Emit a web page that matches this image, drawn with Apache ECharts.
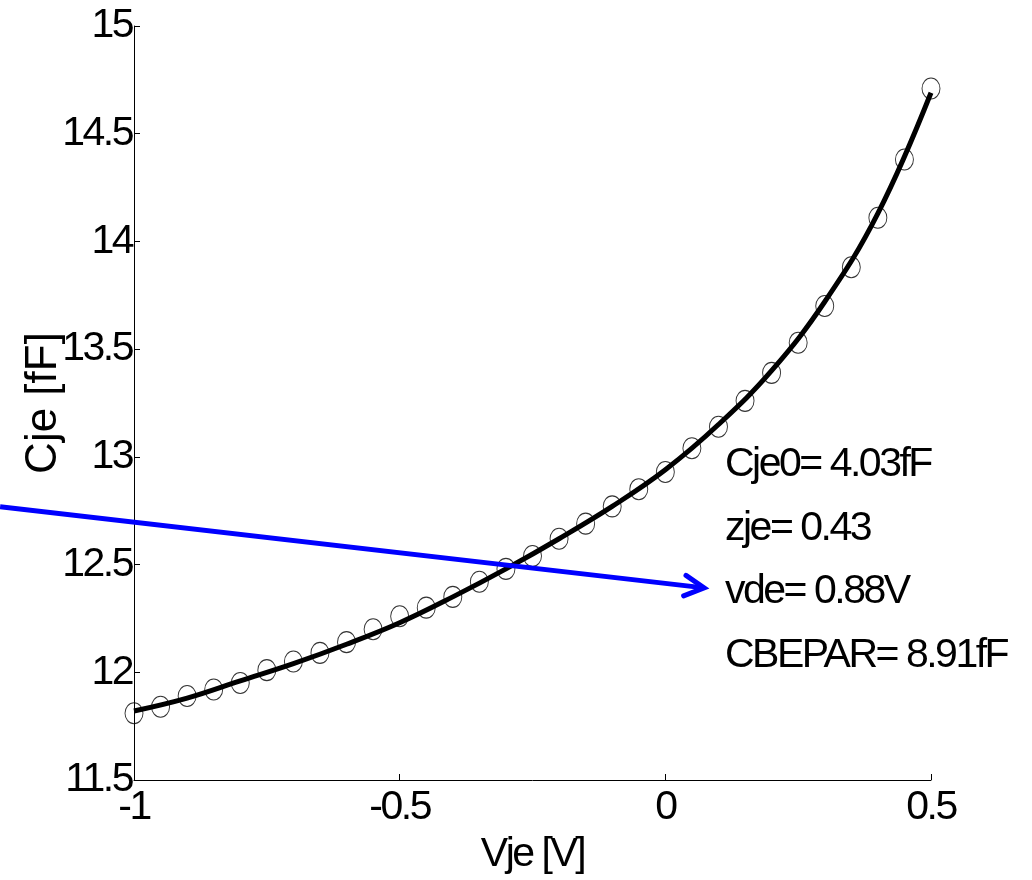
<!DOCTYPE html>
<html>
<head>
<meta charset="utf-8">
<title>Cje vs Vje</title>
<script src="https://cdn.jsdelivr.net/npm/echarts@6/dist/echarts.min.js"></script>
<style>
  html, body { margin: 0; padding: 0; background: #ffffff; }
  #chart { width: 1032px; height: 880px; }
</style>
</head>
<body>
<div id="chart"></div>
<script>
// Emitter-junction capacitance: measured points and fitted model curve
const vje = [-1, -0.95, -0.9, -0.85, -0.8, -0.75, -0.7, -0.65, -0.6, -0.55, -0.5,
             -0.45, -0.4, -0.35, -0.3, -0.25, -0.2, -0.15, -0.1, -0.05, 0,
             0.05, 0.1, 0.15, 0.2, 0.25, 0.3, 0.35, 0.4, 0.45, 0.5];
const cjeMeasured = [11.81, 11.84, 11.89, 11.92, 11.95, 12.01, 12.05, 12.09, 12.14, 12.20, 12.26,
                     12.30, 12.35, 12.42, 12.48, 12.54, 12.62, 12.69, 12.77, 12.85, 12.93,
                     13.04, 13.14, 13.26, 13.39, 13.53, 13.70, 13.88, 14.11, 14.38, 14.71];

const fitV = [-1, -0.9, -0.8, -0.7, -0.6, -0.5, -0.4, -0.3, -0.2, -0.1, 0, 0.1, 0.2, 0.3, 0.4, 0.5];
const cjeFit = [11.82, 11.88, 11.96, 12.04, 12.13, 12.23, 12.35, 12.48, 12.62, 12.77, 12.94,
                13.15, 13.40, 13.72, 14.13, 14.69];

// Extracted model parameters
const fitParams = ['Cje0= 4.03fF', 'zje= 0.43', 'vde= 0.88V', 'CBEPAR= 8.91fF'];

// Pointer arrow, in axis units (starts left of the plot)
const arrowFrom = [-1.252, 12.768];
const arrowTo = [0.073, 12.392];

const FONT = '"Liberation Sans", Arial, sans-serif';
const TIGHT_SIZE = 41;       // labels drawn at this size get tight tracking
const TIGHT_SPACING = '-2.5px';

// Tight letter tracking for the 41px texts (ticks, x title, parameter list)
(function () {
  const proto = CanvasRenderingContext2D.prototype;
  const tightRe = new RegExp('(^|\\s)' + TIGHT_SIZE + 'px');
  const setSpacing = function (ctx) {
    if ('letterSpacing' in ctx) {
      ctx.letterSpacing = tightRe.test(ctx.font) ? TIGHT_SPACING : '0px';
    }
  };
  const origFill = proto.fillText;
  proto.fillText = function () { setSpacing(this); return origFill.apply(this, arguments); };
  const origStroke = proto.strokeText;
  proto.strokeText = function () { setSpacing(this); return origStroke.apply(this, arguments); };
  const origMeasure = proto.measureText;
  proto.measureText = function () { setSpacing(this); return origMeasure.apply(this, arguments); };
})();

const chart = echarts.init(document.getElementById('chart'), null, { renderer: 'canvas' });

const measuredPts = vje.map((v, i) => [v, cjeMeasured[i]]);
const fitPts = fitV.map((v, i) => [v, cjeFit[i]]);

chart.setOption({
  animation: false,
  backgroundColor: '#ffffff',
  grid: { left: 134, right: 101, top: 26, bottom: 100, containLabel: false, outerBoundsMode: 'none' },
  xAxis: {
    type: 'value', min: -1, max: 0.5, interval: 0.5,
    name: 'Vje [V]', nameLocation: 'middle', nameGap: 55, nameMoveOverlap: false,
    nameTextStyle: { fontSize: TIGHT_SIZE, fontFamily: FONT, color: '#000' },
    axisLine: { show: true, onZero: false, lineStyle: { color: '#000', width: 1 } },
    axisTick: { show: true, inside: true, length: 6, lineStyle: { color: '#000' } },
    axisLabel: { fontSize: TIGHT_SIZE, fontFamily: FONT, color: '#000', margin: 8, showMinLabel: true, showMaxLabel: true },
    splitLine: { show: false }
  },
  yAxis: {
    type: 'value', min: 11.5, max: 15, interval: 0.5,
    name: 'Cje [fF]', nameLocation: 'middle', nameGap: 68, nameRotate: 90, nameMoveOverlap: false,
    nameTextStyle: { fontSize: 44, fontFamily: FONT, color: '#000' },
    axisLine: { show: true, onZero: false, lineStyle: { color: '#000', width: 1 } },
    axisTick: { show: true, inside: true, length: 6, lineStyle: { color: '#000' } },
    axisLabel: { fontSize: TIGHT_SIZE, fontFamily: FONT, color: '#000', margin: 2, showMinLabel: true, showMaxLabel: true },
    splitLine: { show: false }
  },
  series: [
    {
      name: 'measured',
      type: 'scatter',
      data: measuredPts,
      symbol: 'path://M0,-10A10,10,0,1,1,0,10A10,10,0,1,1,0,-10Z',
      symbolSize: [18, 21],
      itemStyle: { color: 'rgba(0,0,0,0)', borderColor: '#000', borderWidth: 1 },
      z: 2
    },
    {
      name: 'fit',
      type: 'line',
      data: fitPts,
      smooth: 0.4,
      showSymbol: false,
      lineStyle: { color: '#000', width: 5 },
      z: 3
    }
  ]
});

// Arrow and parameter annotations
const p0 = chart.convertToPixel({ gridIndex: 0 }, arrowFrom);
const p1 = chart.convertToPixel({ gridIndex: 0 }, arrowTo);
const ang = Math.atan2(p1[1] - p0[1], p1[0] - p0[0]);
const headLen = 22, headSpread = 28 * Math.PI / 180;
const hA = [p1[0] - headLen * Math.cos(ang - headSpread), p1[1] - headLen * Math.sin(ang - headSpread)];
const hB = [p1[0] - headLen * Math.cos(ang + headSpread), p1[1] - headLen * Math.sin(ang + headSpread)];

const labelTop = 465, labelStep = 63.5;
const graphics = [
  {
    type: 'line', z: 10, silent: true,
    shape: { x1: p0[0], y1: p0[1], x2: p1[0] - 2 * Math.cos(ang), y2: p1[1] - 2 * Math.sin(ang) },
    style: { stroke: '#0000ff', lineWidth: 5 }
  },
  {
    type: 'polyline', z: 10, silent: true,
    shape: { points: [hA, p1, hB] },
    style: { stroke: '#0000ff', lineWidth: 5, fill: null, lineJoin: 'miter', lineCap: 'round' }
  }
];
fitParams.forEach((t, i) => {
  graphics.push({
    type: 'text', z: 10, silent: true,
    x: 725, y: labelTop + i * labelStep,
    style: { text: t, fontSize: TIGHT_SIZE, fontFamily: FONT, fill: '#000', align: 'left', verticalAlign: 'middle' }
  });
});
chart.setOption({ graphic: graphics });
</script>
</body>
</html>
